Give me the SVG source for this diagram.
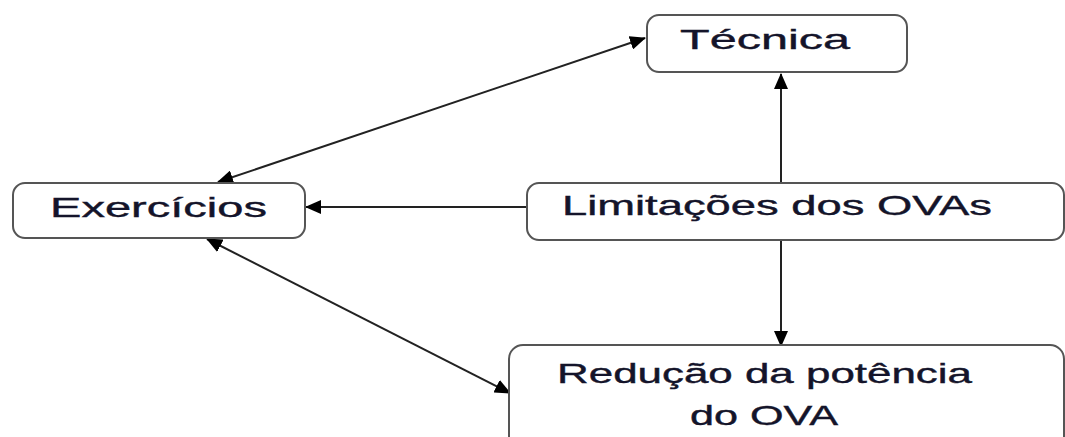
<svg xmlns="http://www.w3.org/2000/svg" width="1065" height="437" viewBox="0 0 1065 437">
<style>
.box{fill:#fff;stroke:#555;stroke-width:2}
.lbl{font-family:"Liberation Sans",Arial,sans-serif;font-size:28px;fill:#14142a;stroke:#14142a;stroke-width:0.4}
.edge{stroke:#222;stroke-width:2;fill:none}
</style>
<defs>
<marker id="arr" markerUnits="userSpaceOnUse" markerWidth="16" markerHeight="14" refX="15" refY="7" orient="auto-start-reverse" viewBox="0 0 16 14">
<path d="M0,0 L16,7 L0,14 Z" fill="#000"/>
</marker>
</defs>
<rect width="1065" height="437" fill="#fff"/>
<g id="connectors">
<line class="edge" x1="781" y1="183" x2="781" y2="74" marker-end="url(#arr)"/>
<line class="edge" x1="781" y1="240" x2="781" y2="346" marker-end="url(#arr)"/>
<line class="edge" x1="527" y1="207" x2="306" y2="207" marker-end="url(#arr)"/>
<line class="edge" x1="218" y1="182" x2="645" y2="38" marker-start="url(#arr)" marker-end="url(#arr)"/>
<line class="edge" x1="207" y1="239" x2="510" y2="393" marker-start="url(#arr)" marker-end="url(#arr)"/>
</g>
<g id="tecnica">
<rect class="box" x="647" y="15" width="260" height="57" rx="12"/>
<text class="lbl" x="680" y="49" textLength="170" lengthAdjust="spacingAndGlyphs">Técnica</text>
</g>
<g id="exercicios">
<rect class="box" x="13" y="183" width="292" height="55" rx="12"/>
<text class="lbl" x="50" y="217" textLength="217" lengthAdjust="spacingAndGlyphs">Exercícios</text>
</g>
<g id="limitacoes">
<rect class="box" x="527" y="183" width="537" height="57" rx="12"/>
<text class="lbl" x="562" y="215" textLength="430" lengthAdjust="spacingAndGlyphs">Limitações dos OVAs</text>
</g>
<g id="reducao">
<rect class="box" x="509" y="345" width="555" height="110" rx="14"/>
<text class="lbl" x="557" y="383" textLength="415" lengthAdjust="spacingAndGlyphs">Redução da potência</text>
<text class="lbl" x="690" y="425" textLength="148" lengthAdjust="spacingAndGlyphs">do OVA</text>
</g>
</svg>
